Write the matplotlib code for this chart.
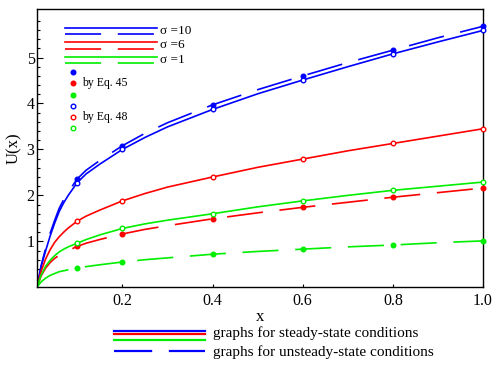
import matplotlib
matplotlib.use('Agg')
import matplotlib.pyplot as plt
import numpy as np

plt.rcParams['font.family'] = 'serif'
plt.rcParams['font.serif'] = ['Liberation Serif', 'DejaVu Serif']
plt.rcParams['lines.scale_dashes'] = False

# ---------------- data ----------------
x_curve = [0.012, 0.02, 0.03, 0.04, 0.05, 0.06, 0.07, 0.08, 0.1, 0.12, 0.15,
           0.2, 0.25, 0.3, 0.4, 0.5, 0.6, 0.7, 0.8, 0.9, 1.0]

# steady-state (solid)
blue_steady = [0.05, 0.45, 0.80, 1.12, 1.40, 1.65, 1.84, 2.00, 2.28, 2.47,
               2.68, 3.00, 3.26, 3.49, 3.87, 4.21, 4.51, 4.80, 5.08, 5.34, 5.59]
red_steady = [0.05, 0.35, 0.62, 0.82, 0.98, 1.10, 1.20, 1.29, 1.44, 1.55,
              1.68, 1.88, 2.04, 2.18, 2.40, 2.61, 2.79, 2.97, 3.13, 3.29, 3.45]
green_steady = [0.04, 0.27, 0.46, 0.59, 0.69, 0.77, 0.83, 0.88, 0.96, 1.04,
                1.14, 1.28, 1.38, 1.46, 1.60, 1.75, 1.88, 2.00, 2.11, 2.20, 2.29]

# unsteady-state (dashed)
blue_unsteady = [0.05, 0.48, 0.85, 1.18, 1.46, 1.72, 1.91, 2.07, 2.36, 2.55,
                 2.76, 3.08, 3.35, 3.58, 3.97, 4.30, 4.60, 4.89, 5.16, 5.43, 5.68]
red_unsteady = [0.04, 0.25, 0.42, 0.54, 0.63, 0.70, 0.75, 0.80, 0.89, 0.96,
                1.04, 1.16, 1.26, 1.34, 1.49, 1.62, 1.74, 1.85, 1.96, 2.06, 2.16]
green_unsteady = [0.02, 0.12, 0.20, 0.26, 0.30, 0.34, 0.36, 0.38, 0.42, 0.45,
                  0.49, 0.55, 0.60, 0.64, 0.72, 0.78, 0.83, 0.88, 0.92, 0.97, 1.01]

# point values
x_pts = [0.1, 0.2, 0.4, 0.6, 0.8, 1.0]
blue_eq45 = [2.36, 3.08, 3.97, 4.60, 5.16, 5.68]
red_eq45 = [0.89, 1.16, 1.49, 1.74, 1.96, 2.16]
green_eq45 = [0.42, 0.55, 0.72, 0.83, 0.92, 1.01]
blue_eq48 = [2.28, 3.00, 3.87, 4.51, 5.08, 5.59]
red_eq48 = [1.44, 1.88, 2.40, 2.79, 3.13, 3.45]
green_eq48 = [0.96, 1.28, 1.60, 1.88, 2.11, 2.29]

sigma_labels = ['\u03c3 =10', '\u03c3 =6', '\u03c3 =1']

BLUE = '#0000ff'
RED = '#ff0000'
GREEN = '#00ee00'
DASH = (0, (26, 12))
LW = 1.2
MS = 3.3

fig = plt.figure(figsize=(4.99, 3.67), dpi=100)
ax = fig.add_axes([0.0735, 0.2172, 0.8945, 0.7575])

for col, ys, yu in [(BLUE, blue_steady, blue_unsteady),
                    (RED, red_steady, red_unsteady),
                    (GREEN, green_steady, green_unsteady)]:
    ax.plot(x_curve, ys, color=col, lw=LW)
    ax.plot(x_curve, yu, color=col, lw=LW, linestyle=DASH)

for col, p45, p48 in [(BLUE, blue_eq45, blue_eq48),
                      (RED, red_eq45, red_eq48),
                      (GREEN, green_eq45, green_eq48)]:
    ax.plot(x_pts, p45, 'o', color=col, ms=MS, clip_on=False, zorder=5)
    ax.plot(x_pts, p48, 'o', mfc='white', mec=col, mew=1.0, ms=MS,
            clip_on=False, zorder=5)

ax.set_xlim(0.01, 1.0)
ax.set_ylim(0, 6.05)
ax.set_xticks([0.2, 0.4, 0.6, 0.8, 1.0])
ax.set_xticklabels(['0.2', '0.4', '0.6', '0.8', '1.0'])
ax.set_yticks([1, 2, 3, 4, 5])
ax.set_yticks([v for v in np.arange(0.2, 6.01, 0.2) if abs(v - round(v)) > 0.01],
              minor=True)
ax.tick_params(axis='both', which='both', direction='in', labelsize=11.5)
ax.tick_params(axis='y', which='major', length=4, width=0.8, pad=1.5)
ax.tick_params(axis='y', which='minor', length=2.5, width=0.8)
ax.tick_params(axis='x', which='major', length=2, width=0.8, pad=4)
for s in ax.spines.values():
    s.set_linewidth(1.0)

ax.set_xlabel('x', fontsize=12, labelpad=0)
ax.set_ylabel('U(x)', fontsize=12, labelpad=3)

# ---- top-left legend (curves) ----
tr = ax.transAxes
leg_x = [0.0634, 0.2696]
rows = [(BLUE, 0.934, 0.911, 0.922), (RED, 0.882, 0.858, 0.872),
        (GREEN, 0.829, 0.808, 0.818)]
for (col, ys, yd, yt), lab in zip(rows, sigma_labels):
    ax.plot(leg_x, [ys, ys], color=col, lw=LW, transform=tr, clip_on=False)
    ax.plot(leg_x, [yd, yd], color=col, lw=LW, linestyle=DASH, transform=tr,
            clip_on=False)
    ax.text(0.277, yt, lab, transform=tr, fontsize=9.5, va='center', ha='left')

# ---- marker legend ----
mk_x = 0.0813
for col, yy in [(BLUE, 0.7745), (RED, 0.735), (GREEN, 0.692)]:
    ax.plot([mk_x], [yy], 'o', color=col, ms=MS, transform=tr)
for col, yy in [(BLUE, 0.652), (RED, 0.612), (GREEN, 0.573)]:
    ax.plot([mk_x], [yy], 'o', mfc='white', mec=col, mew=1.0, ms=MS, transform=tr)
ax.text(0.1015, 0.735, 'by Eq. 45', transform=tr, fontsize=8.5, va='center')
ax.text(0.1015, 0.612, 'by Eq. 48', transform=tr, fontsize=8.5, va='center')

# ---- bottom legend (figure coords) ----
ftr = fig.transFigure
bx = [0.2285, 0.4108]
for col, yy in [(BLUE, 0.0989), (RED, 0.0886), (GREEN, 0.0736)]:
    fig.add_artist(plt.Line2D(bx, [yy, yy], color=col, lw=1.6, transform=ftr))
fig.add_artist(plt.Line2D(bx, [0.0444, 0.0444], color=BLUE, lw=1.6,
                          linestyle=(0, (27.5, 12)), transform=ftr))
fig.text(0.4269, 0.0926, 'graphs for steady-state conditions', fontsize=11,
         va='center')
fig.text(0.4269, 0.041, 'graphs for unsteady-state conditions', fontsize=11,
         va='center')

fig.savefig('out.png', dpi=100)
